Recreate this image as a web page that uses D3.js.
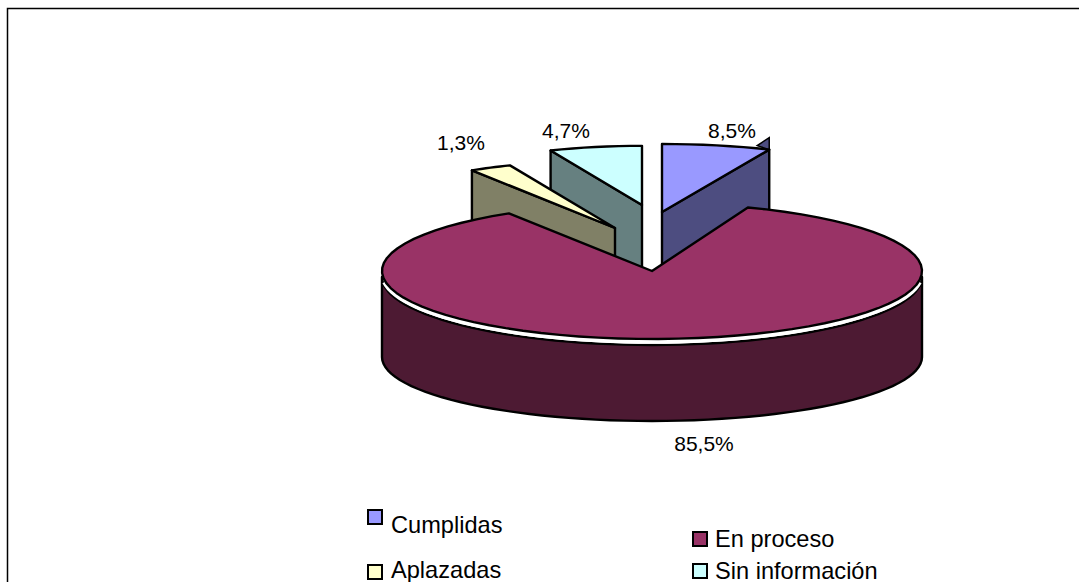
<!DOCTYPE html>
<html><head><meta charset="utf-8">
<script src="https://cdn.jsdelivr.net/npm/d3@7"></script>
<style>html,body{margin:0;padding:0;background:#fff;overflow:hidden}svg{display:block}text{font-family:"Liberation Sans",Arial,sans-serif;fill:#000}</style>
</head><body><svg id="c" width="1079" height="582"></svg>
<script>
// data
const categories = ["Cumplidas","En proceso","Aplazadas","Sin información"];
const values = [8.5,85.5,1.3,4.7];
const valueLabels = ["8,5%","85,5%","1,3%","4,7%"];
const topColors = ["#9999FF","#993366","#FFFFCC","#CCFFFF"];
const wallColors = ["#4D4D80","#4D1A33","#808066","#668080"];

// layout
const W=1079,H=582;
const svg=d3.select("#c");
const cx=652,cy=271,rx=270,ry=68,depth=81,sw=2.4;
const explode=[[10,-59],[0,0],[-37,-43],[-10,-66]];
const radiusK=[1,1,1,0.87];
const labelPos=[[732,138],[704,451],[461,150],[566,138]];
const legendPos=[[368,510],[693,532],[368,565],[693,564]];
const legendText=[[391,533],[715,547],[391,578],[715,579]];

const deg=a=>a*180/Math.PI;
const arcs=d3.pie().sort(null).value(d=>d)(values);
const A=arcs.map(d=>[deg(d.startAngle),deg(d.endAngle)]);
// view skew of the 3-D renderer: data angle -> drawn angle
const warpMain=d3.scaleLinear().domain([A[1][0],A[1][1]]).range([20.8,328]);
const warpPart=d3.scaleLinear().domain([0,A[0][1],A[2][0],A[2][1],360]).range([0,23.4,328,337.1,360]);

const pt=(a,k,ox,oy)=>{const t=a*Math.PI/180;return [cx+ox+rx*k*Math.sin(t),cy+oy-ry*k*Math.cos(t)];};
const line=d3.line();
const sweep=(a0,a1,k,ox,oy,n)=>d3.range(n+1).map(i=>pt(a0+(a1-a0)*i/n,k,ox,oy));
const styled=s=>s.attr("stroke","#000").attr("stroke-width",sw).attr("stroke-linejoin","round");

function drawPart(i){
  const [ox,oy]=explode[i],k=radiusK[i];
  const a0=warpPart(A[i][0]),a1=warpPart(A[i][1]);
  const v=[cx+ox,cy+oy];
  const edgeA=i===0?a1:a0;
  const e=pt(edgeA,k,ox,oy);
  styled(svg.append("path").attr("d",line([v,e,[e[0],e[1]+depth],[v[0],v[1]+depth]])+"Z").attr("fill",wallColors[i]));
  if(i===0){
    svg.append("path").attr("d",line([e,[e[0],e[1]-12],[e[0]-12,e[1]-4]])+"Z")
      .attr("fill",wallColors[i]).attr("stroke","#000").attr("stroke-width",1.5);
  }
  styled(svg.append("path").attr("d",line([v,...sweep(a0,a1,k,ox,oy,8)])+"Z").attr("fill",topColors[i]));
}

// frame
svg.append("path").attr("d",line([[7.5,H+5],[7.5,8.5],[W+5,8.5]])).attr("fill","none").attr("stroke","#000").attr("stroke-width",1.5);

// exploded slices, back to front
[3,0,2].forEach(drawPart);

// main slice: outer wall then top
const wallTop=d3.range(0,61).map(i=>{const t=(90+180*i/60)*Math.PI/180;return [cx+rx*Math.sin(t),cy+6-ry*Math.cos(t)];});
const wallBot=d3.range(0,61).map(i=>{const t=(270-180*i/60)*Math.PI/180;return [cx+rx*Math.sin(t),cy+86-(ry-4)*Math.cos(t)];});
styled(svg.append("path").attr("d",line([...wallTop,...wallBot])+"Z").attr("fill",wallColors[1]));
// white gap between the top and the wall
svg.append("path").attr("d",line(d3.range(0,61).map(i=>{const t=(97+166*i/60)*Math.PI/180;return [cx+rx*Math.sin(t),cy+3-ry*Math.cos(t)];})))
  .attr("fill","none").attr("stroke","#fff").attr("stroke-width",3.6);
const m0=warpMain(A[1][0]),m1=warpMain(A[1][1]);
styled(svg.append("path").attr("d",line([[cx,cy],...sweep(m0,m1,1,0,0,72)])+"Z").attr("fill",topColors[1]));

// value labels
svg.selectAll("text.v").data(valueLabels).join("text").attr("class","v")
  .attr("x",(d,i)=>labelPos[i][0]).attr("y",(d,i)=>labelPos[i][1])
  .attr("text-anchor","middle").attr("font-size",21).text(d=>d);

// legend
const lg=svg.selectAll("g.l").data(categories).join("g").attr("class","l");
lg.append("rect").attr("x",(d,i)=>legendPos[i][0]).attr("y",(d,i)=>legendPos[i][1]).attr("width",14).attr("height",14)
  .attr("fill",(d,i)=>topColors[i]).attr("stroke","#000").attr("stroke-width",2);
lg.append("text").attr("x",(d,i)=>legendText[i][0]).attr("y",(d,i)=>legendText[i][1])
  .attr("font-size",23.6).text(d=>d);
</script></body></html>
